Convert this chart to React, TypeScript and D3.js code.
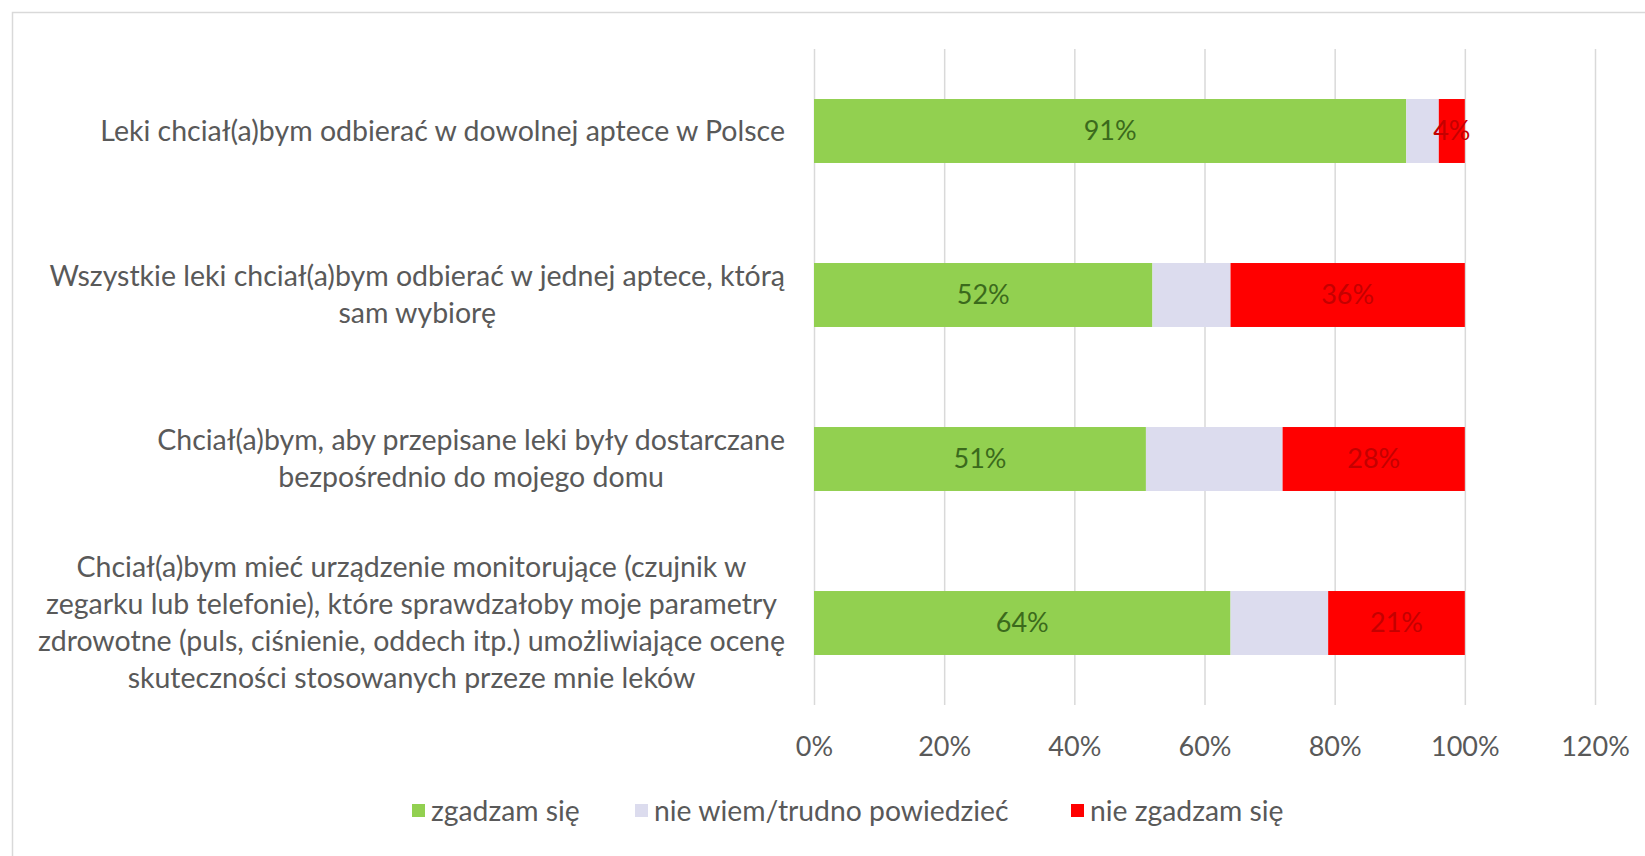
import { useRef, useEffect } from 'react';
import * as d3 from 'd3';

const categories = [
    ['Leki chciał(a)bym odbierać w dowolnej aptece w Polsce'],
    ['Wszystkie leki chciał(a)bym odbierać w jednej aptece, którą', 'sam wybiorę'],
    ['Chciał(a)bym, aby przepisane leki były dostarczane', 'bezpośrednio do mojego domu'],
    ['Chciał(a)bym mieć urządzenie monitorujące (czujnik w', 'zegarku lub telefonie), które sprawdzałoby moje parametry', 'zdrowotne (puls, ciśnienie, oddech itp.) umożliwiające ocenę', 'skuteczności stosowanych przeze mnie leków'],
];
const agree = [91, 52, 51, 64];
const unsure = [5, 12, 21, 15];
const disagree = [4, 36, 28, 21];
const seriesNames = ['zgadzam się', 'nie wiem/trudno powiedzieć', 'nie zgadzam się'];
const xTicks = [0, 20, 40, 60, 80, 100, 120];

const W = 1645;
const H = 856;
const FONT = 'Lato, sans-serif';
const FS_CAT = 28.5;
const FS_TICK = 27;
const FS_BAR = 27;
const FS_LEG = 28.3;

const App = () => {
    const svgRef = useRef<SVGSVGElement | null>(null);

    useEffect(() => {
        const svgElement = svgRef.current;
        if (!svgElement) return;
        const svg = d3.select(svgElement);
        svg.selectAll('*').remove();

        const x = d3.scaleLinear().domain([0, 120]).range([814, 1595]);
        const y = d3.scaleBand<number>()
            .domain(d3.range(categories.length))
            .range([49, 705])
            .paddingInner(0.61)
            .paddingOuter(0.305);

        // chart frame
        svg.append('rect')
            .attr('x', 12.5).attr('y', 12.5)
            .attr('width', W).attr('height', H)
            .attr('fill', '#fff')
            .attr('stroke', '#d9d9d9')
            .attr('stroke-width', 1.5);

        // grid + tick labels
        const grid = svg.append('g')
            .attr('transform', `translate(0, ${y.range()[1]})`)
            .call(d3.axisBottom(x)
                .tickValues(xTicks)
                .tickSize(-(y.range()[1] - y.range()[0]))
                .tickFormat(d => `${d}%`));
        grid.select('.domain').remove();
        grid.selectAll('.tick line').attr('stroke', '#d9d9d9').attr('stroke-width', 1.5);
        grid.selectAll('.tick text')
            .attr('y', 32)
            .attr('fill', '#595959')
            .style('font-family', FONT)
            .style('font-size', `${FS_TICK}px`);

        // stacked bars
        const stackData = categories.map((_, i) => ({ i, a: agree[i], u: unsure[i], d: disagree[i] }));
        const stack = d3.stack<{ i: number, a: number, u: number, d: number }>().keys(['a', 'u', 'd'])(stackData);
        const colors = ['#92d050', '#dcdcee', '#ff0000'];
        const labelColors = ['#3b6a1c', null, '#c40000'];

        stack.forEach((layer, k) => {
            const g = svg.append('g');
            g.selectAll('rect')
                .data(layer)
                .join('rect')
                .attr('x', d => x(d[0]))
                .attr('y', d => y(d.data.i)!)
                .attr('width', d => x(d[1]) - x(d[0]))
                .attr('height', y.bandwidth())
                .attr('fill', colors[k]);
            if (labelColors[k]) {
                g.selectAll('text')
                    .data(layer)
                    .join('text')
                    .attr('x', d => x((d[0] + d[1]) / 2))
                    .attr('y', d => y(d.data.i)! + y.bandwidth() / 2)
                    .attr('dy', '0.35em')
                    .attr('text-anchor', 'middle')
                    .attr('fill', labelColors[k]!)
                    .style('font-family', FONT)
                    .style('font-size', `${FS_BAR}px`)
                    .text(d => `${d[1] - d[0]}%`);
            }
        });

        // category labels, centred lines, right edge of block aligned
        const rightEdge = 785;
        const lineH = 37;
        categories.forEach((lines, i) => {
            const t = svg.append('text')
                .attr('fill', '#595959')
                .attr('text-anchor', 'middle')
                .style('font-family', FONT)
                .style('font-size', `${FS_CAT}px`);
            const cy = y(i)! + y.bandwidth() / 2;
            const spans = lines.map((line, j) => t.append('tspan')
                .attr('y', cy + (j - (lines.length - 1) / 2) * lineH)
                .attr('dy', '0.35em')
                .text(line));
            const maxW = d3.max(spans, s => (s.node() as SVGTSpanElement).getComputedTextLength()) || 0;
            spans.forEach(s => s.attr('x', rightEdge - maxW / 2));
        });

        // legend
        const legendX = [412, 635, 1071];
        const legendY = 811;
        seriesNames.forEach((name, k) => {
            svg.append('rect')
                .attr('x', legendX[k]).attr('y', legendY - 7)
                .attr('width', 13).attr('height', 13)
                .attr('fill', colors[k]);
            svg.append('text')
                .attr('x', legendX[k] + 19)
                .attr('y', legendY)
                .attr('dy', '0.35em')
                .attr('fill', '#595959')
                .style('font-family', FONT)
                .style('font-size', `${FS_LEG}px`)
                .text(name);
        });
    }, []);

    return (
        <svg ref={svgRef} width={W} height={H}
            style={{ position: 'absolute', left: 0, top: 0, background: '#fff' }} />
    );
};

export default App;
